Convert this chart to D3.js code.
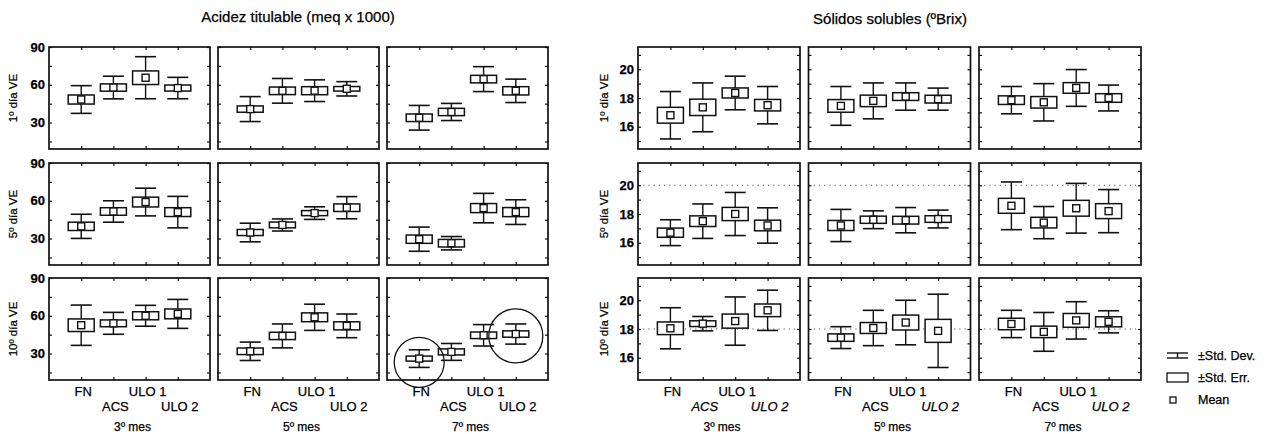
<!DOCTYPE html>
<html>
<head>
<meta charset="utf-8">
<script src="https://cdn.jsdelivr.net/npm/d3@7"></script>
<style>
  body { margin: 0; background: #fff; }
  text { font-family: "Liberation Sans", Arial, sans-serif; fill: #000; stroke: #000; stroke-width: 0.25; }
</style>
</head>
<body>
<svg id="chart" width="1270" height="434"></svg>
<script>
// ---------- data ----------
const categories = ["FN", "ACS", "ULO 1", "ULO 2"];
const months = ["3º mes", "5º mes", "7º mes"];
const days = ["1º día VE", "5º día VE", "10º día VE"];

// Acidez titulable (meq x 1000); each inner array = one month, values per category
const acidMean1 = [[48.3, 57.8, 65.6, 57.4], [40.7, 55.2, 55.3, 56.8], [33.8, 38.4, 64.5, 55.2]];
const acidSE1   = [[3.6, 2.9, 5.4, 2.4],     [2.5, 3.0, 3.2, 1.8],     [3.0, 2.9, 3.0, 3.3]];
const acidSD1   = [[11, 9, 16.7, 8.5],       [9.9, 9.8, 8.6, 5.7],     [9.8, 6.8, 9.9, 9.3]];

const acidMean5 = [[39.7, 51.5, 59.0, 51.0], [34.8, 40.8, 50.2, 54.5], [29.5, 26.3, 54.2, 51.0]];
const acidSE5   = [[3.3, 3.0, 3.9, 3.5],     [2.4, 2.3, 2.0, 3.0],     [3.3, 3.0, 3.6, 3.6]];
const acidSD5   = [[9.6, 8.5, 11, 12.5],     [7.4, 4.8, 5.0, 8.8],     [9.6, 5.3, 11.7, 9.8]];

const acidMean10 = [[52.5, 54.0, 60.0, 61.5], [31.8, 44.0, 58.8, 52.0], [26.0, 31.3, 44.5, 45.5]];
const acidSE10   = [[5.0, 2.7, 3.2, 3.9],     [2.6, 2.9, 3.5, 3.2],     [2.0, 2.4, 2.6, 2.5]];
const acidSD10   = [[16, 8.7, 8.3, 11.5],     [7.3, 9.5, 10.4, 9.4],    [7.0, 6.7, 8.5, 8.0]];

// Sólidos solubles (ºBrix)
const brixMean1 = [[16.8, 17.35, 18.35, 17.5], [17.45, 17.8, 18.1, 17.92], [17.85, 17.7, 18.7, 18.0]];
const brixSE1   = [[0.55, 0.57, 0.35, 0.4],    [0.44, 0.4, 0.27, 0.27],    [0.3, 0.4, 0.37, 0.3]];
const brixSD1   = [[1.65, 1.7, 1.17, 1.3],     [1.35, 1.25, 0.95, 0.77],   [0.95, 1.3, 1.28, 0.9]];

const brixMean5 = [[16.7, 17.5, 18.0, 17.2], [17.2, 17.6, 17.57, 17.65], [18.57, 17.4, 18.4, 18.2]];
const brixSE5   = [[0.32, 0.37, 0.46, 0.37], [0.35, 0.25, 0.27, 0.23],   [0.52, 0.37, 0.55, 0.52]];
const brixSD5   = [[0.9, 1.2, 1.5, 1.23],    [1.12, 0.62, 0.88, 0.62],   [1.66, 1.12, 1.73, 1.5]];

const brixMean10 = [[18.05, 18.37, 18.55, 19.3], [17.4, 18.07, 18.45, 17.87], [18.35, 17.8, 18.6, 18.5]];
const brixSE10   = [[0.44, 0.2, 0.49, 0.44],     [0.26, 0.38, 0.52, 0.8],     [0.4, 0.4, 0.48, 0.35]];
const brixSD10   = [[1.43, 0.5, 1.68, 1.4],      [0.76, 1.23, 1.55, 2.55],    [0.95, 1.35, 1.3, 0.77]];

const acidTicks = [15, 30, 45, 60, 75, 90];
const acidTickLabels = [30, 60, 90];
const brixTicks = [15, 16, 17, 18, 19, 20, 21];
const brixTickLabels = [16, 18, 20];

// dotted reference levels per row of the Brix grid (null = none)
const brixRefLines = [null, 20, 18];

// circled groups in the acidity grid: [row, column, category, centre value, radius]
const acidCircles = [[2, 2, "FN", 23, 25], [2, 2, "ULO 2", 44, 27]];

// ---------- layout ----------
const svg = d3.select("#chart");
const rowTops = [47, 163, 278];
const panelH = 102;
const ink = "#111";

function boxPlot(g, x, y, mean, se, sd) {
  const bw = 26, cw = 21, mw = 7;
  categories.forEach((cat, i) => {
    const cx = x(cat);
    const m = mean[i], s = se[i], d = sd[i];
    g.append("line").attr("x1", cx).attr("x2", cx)
      .attr("y1", y(m + d)).attr("y2", y(m - d))
      .attr("stroke", ink).attr("stroke-width", 1.4);
    [m + d, m - d].forEach(v => {
      g.append("line").attr("x1", cx - cw / 2).attr("x2", cx + cw / 2)
        .attr("y1", y(v)).attr("y2", y(v))
        .attr("stroke", ink).attr("stroke-width", 1.6);
    });
    g.append("rect").attr("x", cx - bw / 2).attr("y", y(m + s))
      .attr("width", bw).attr("height", y(m - s) - y(m + s))
      .attr("fill", "#fff").attr("stroke", ink).attr("stroke-width", 1.5);
    g.append("rect").attr("x", cx - mw / 2).attr("y", y(m) - mw / 2)
      .attr("width", mw).attr("height", mw)
      .attr("fill", "#fff").attr("stroke", ink).attr("stroke-width", 1.4);
  });
}

function drawGrid(cfg) {
  const rowsData = cfg.rows;
  rowsData.forEach((rd, r) => {
    const top = rowTops[r];
    const y = d3.scaleLinear().domain(cfg.domain).range([top + panelH, top]);
    cfg.colLefts.forEach((x0, c) => {
      const x = d3.scalePoint().domain(categories).range([x0, x0 + cfg.panelW]).padding(1);
      const g = svg.append("g");

      if (cfg.refLines && cfg.refLines[r] != null) {
        g.append("line").attr("x1", x0).attr("x2", x0 + cfg.panelW)
          .attr("y1", y(cfg.refLines[r])).attr("y2", y(cfg.refLines[r]))
          .attr("stroke", "#555").attr("stroke-width", 1)
          .attr("stroke-dasharray", "1.2,4");
      }

      boxPlot(g, x, y, rd.mean[c], rd.se[c], rd.sd[c]);

      // inward ticks on all four sides
      const tickStyle = sel => {
        sel.select(".domain").remove();
        sel.selectAll(".tick line").attr("stroke", ink).attr("stroke-width", 1.2);
      };
      g.append("g").attr("transform", `translate(${x0},0)`)
        .call(d3.axisLeft(y).tickValues(cfg.ticks).tickSize(-3).tickFormat("")).call(tickStyle);
      g.append("g").attr("transform", `translate(${x0 + cfg.panelW},0)`)
        .call(d3.axisRight(y).tickValues(cfg.ticks).tickSize(-3).tickFormat("")).call(tickStyle);
      g.append("g").attr("transform", `translate(0,${top + panelH})`)
        .call(d3.axisBottom(x).tickSize(-3).tickFormat("")).call(tickStyle);
      g.append("g").attr("transform", `translate(0,${top})`)
        .call(d3.axisTop(x).tickSize(-3).tickFormat("")).call(tickStyle);

      g.append("rect").attr("x", x0).attr("y", top)
        .attr("width", cfg.panelW).attr("height", panelH)
        .attr("fill", "none").attr("stroke", ink).attr("stroke-width", 1.7);

      // value labels on the first column only
      if (c === 0) {
        const ax = g.append("g").attr("transform", `translate(${x0},0)`)
          .call(d3.axisLeft(y).tickValues(cfg.tickLabels).tickSize(0).tickPadding(4));
        ax.select(".domain").remove();
        ax.selectAll("text").attr("font-size", 13).attr("font-weight", "bold")
          .attr("font-family", "'Liberation Sans', Arial, sans-serif");
        svg.append("text")
          .attr("transform", `translate(${cfg.rowLabelX},${top + panelH / 2}) rotate(-90)`)
          .attr("text-anchor", "middle").attr("dy", "0.35em")
          .attr("font-size", 11.5).text(days[r]);
      }

      // category and month labels below the last row
      if (r === rowsData.length - 1) {
        const bottom = top + panelH;
        categories.forEach((cat, i) => {
          const italic = cfg.italic(c, cat);
          svg.append("text").attr("x", x(cat) + 2)
            .attr("y", bottom + (i % 2 === 0 ? 16 : 31))
            .attr("text-anchor", "middle").attr("font-size", 13)
            .attr("font-style", italic ? "italic" : "normal")
            .text(cat);
        });
        svg.append("text").attr("x", x0 + cfg.panelW / 2 + 3).attr("y", bottom + 51)
          .attr("text-anchor", "middle").attr("font-size", 12).text(months[c]);
      }

      // annotation circles
      (cfg.circles || []).filter(a => a[0] === r && a[1] === c).forEach(a => {
        svg.append("circle").attr("cx", x(a[2])).attr("cy", y(a[3])).attr("r", a[4])
          .attr("fill", "none").attr("stroke", ink).attr("stroke-width", 1.3);
      });
    });
  });
}

drawGrid({
  colLefts: [49, 218, 387], panelW: 161,
  domain: [9, 90], ticks: acidTicks, tickLabels: acidTickLabels,
  rowLabelX: 13,
  rows: [
    { mean: acidMean1, se: acidSE1, sd: acidSD1 },
    { mean: acidMean5, se: acidSE5, sd: acidSD5 },
    { mean: acidMean10, se: acidSE10, sd: acidSD10 }
  ],
  italic: () => false,
  circles: acidCircles
});

drawGrid({
  colLefts: [638, 808.5, 979], panelW: 162,
  domain: [14.45, 21.55], ticks: brixTicks, tickLabels: brixTickLabels,
  rowLabelX: 604,
  rows: [
    { mean: brixMean1, se: brixSE1, sd: brixSD1 },
    { mean: brixMean5, se: brixSE5, sd: brixSD5 },
    { mean: brixMean10, se: brixSE10, sd: brixSD10 }
  ],
  refLines: brixRefLines,
  italic: (c, cat) => cat === "ULO 2" || (c === 0 && cat === "ACS")
});

// titles
svg.append("text").attr("x", 298).attr("y", 22).attr("text-anchor", "middle")
  .attr("font-size", 15).text("Acidez titulable (meq x 1000)");
svg.append("text").attr("x", 890).attr("y", 24).attr("text-anchor", "middle")
  .attr("font-size", 15).text("Sólidos solubles (ºBrix)");

// legend
const lg = svg.append("g");
const lx = 1167, lw = 21;
lg.append("line").attr("x1", lx).attr("x2", lx + lw).attr("y1", 353).attr("y2", 353).attr("stroke", ink).attr("stroke-width", 1.4);
lg.append("line").attr("x1", lx).attr("x2", lx + lw).attr("y1", 358).attr("y2", 358).attr("stroke", ink).attr("stroke-width", 1.4);
lg.append("line").attr("x1", lx + lw / 2).attr("x2", lx + lw / 2).attr("y1", 353).attr("y2", 358).attr("stroke", ink).attr("stroke-width", 1.4);
lg.append("rect").attr("x", lx).attr("y", 373).attr("width", lw).attr("height", 9)
  .attr("fill", "#fff").attr("stroke", ink).attr("stroke-width", 1.3);
lg.append("rect").attr("x", lx + 3).attr("y", 397).attr("width", 6).attr("height", 6)
  .attr("fill", "#fff").attr("stroke", ink).attr("stroke-width", 1.3);
[["±Std. Dev.", 360], ["±Std. Err.", 382], ["Mean", 404]].forEach(([t, yy]) => {
  lg.append("text").attr("x", 1198).attr("y", yy).attr("font-size", 12.5).text(t);
});
</script>
</body>
</html>
